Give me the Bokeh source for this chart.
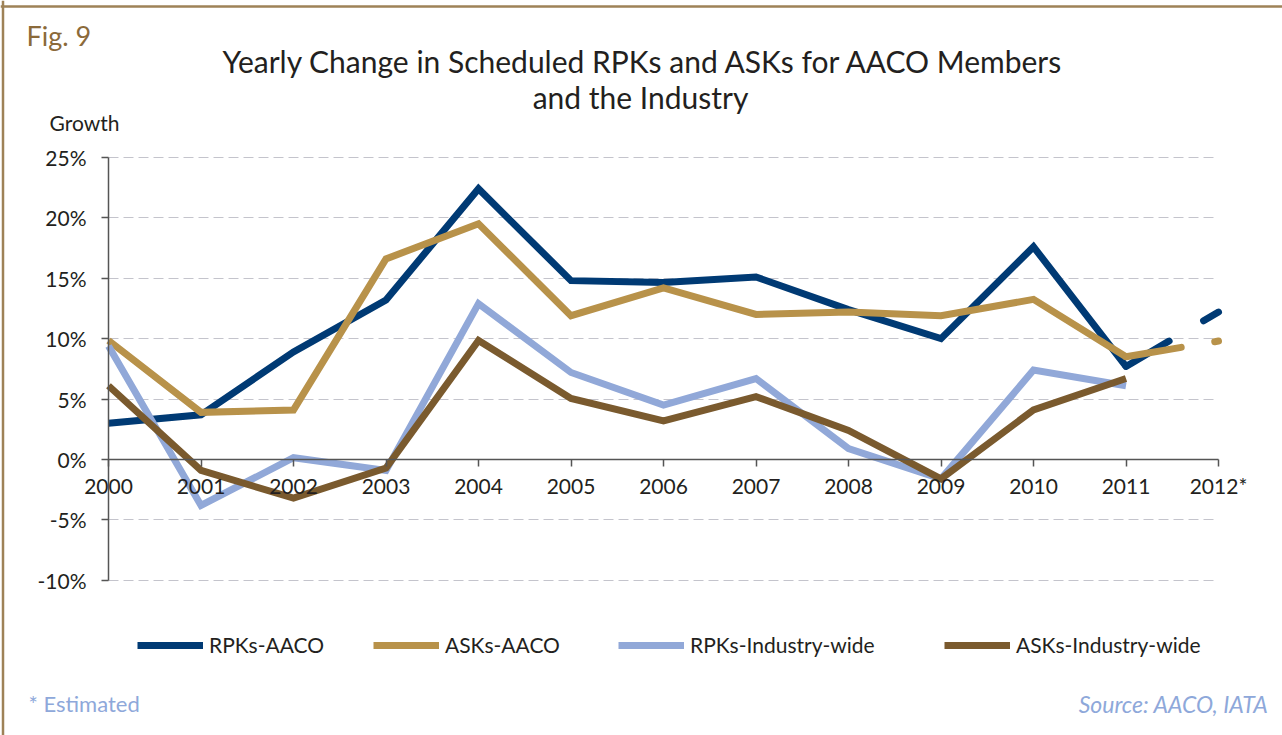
from bokeh.plotting import figure
from bokeh.models import FixedTicker, PrintfTickFormatter, Label, Legend, LegendItem, Span
from bokeh.embed import file_html
from bokeh.resources import INLINE

# ---------------- data ----------------
years = [2000, 2001, 2002, 2003, 2004, 2005, 2006, 2007, 2008, 2009, 2010, 2011, 2012]
year_labels = ["2000", "2001", "2002", "2003", "2004", "2005", "2006",
               "2007", "2008", "2009", "2010", "2011", "2012*"]
rpk_aaco = [3.0, 3.7, 8.9, 13.2, 22.4, 14.8, 14.65, 15.1, 12.4, 10.0, 17.6, 7.7, 12.2]
ask_aaco = [9.85, 3.9, 4.1, 16.6, 19.5, 11.9, 14.2, 12.0, 12.2, 11.9, 13.25, 8.5, 9.8]
rpk_ind = [9.4, -3.8, 0.15, -0.9, 12.9, 7.2, 4.5, 6.7, 0.9, -1.6, 7.4, 6.1]
ask_ind = [6.1, -0.9, -3.2, -0.7, 9.85, 5.05, 3.2, 5.2, 2.4, -1.6, 4.1, 6.7]
series_names = ["RPKs-AACO", "ASKs-AACO", "RPKs-Industry-wide", "ASKs-Industry-wide"]
y_ticks = [-10, -5, 0, 5, 10, 15, 20, 25]
grid_ticks = [-10, -5, 5, 10, 15, 20, 25]

C_NAVY = "#003a74"
C_GOLD = "#b8924a"
C_LBLUE = "#91a8d8"
C_BROWN = "#7a5a2e"
FONT = "Lato"
TXT = "#231f20"

W, H = 1282, 735

# reference pixel -> data helpers (placement only)
def X(px):
    return 2000 + (px - 108) / 92.5

def Y(py):
    return (459 - py) / 12.0857

p = figure(width=W, height=H, x_range=(X(0), X(W)), y_range=(Y(H), Y(0)),
           output_backend="svg", toolbar_location=None,
           min_border=0, min_border_left=0, min_border_right=0,
           min_border_top=0, min_border_bottom=0)
p.outline_line_color = None
p.background_fill_color = "white"
p.border_fill_color = "white"

# grid
p.xgrid.grid_line_color = None
p.ygrid.ticker = FixedTicker(ticks=grid_ticks)
p.ygrid.cross_bounds = (2000, 2012)
p.ygrid.grid_line_color = "#c4c4cc"
p.ygrid.grid_line_dash = "10 5"
p.ygrid.grid_line_width = 1

# axes
p.xaxis.ticker = FixedTicker(ticks=years)
p.xaxis.major_label_overrides = {y: l for y, l in zip(years, year_labels)}
p.xaxis.fixed_location = 0
p.xaxis.bounds = (2000, 2012)
p.yaxis.ticker = FixedTicker(ticks=y_ticks)
p.yaxis.formatter = PrintfTickFormatter(format="%d%%")
p.yaxis.fixed_location = 2000
p.yaxis.bounds = (-10, 25)
for ax in (p.xaxis, p.yaxis):
    ax.axis_line_color = "#555555"
    ax.axis_line_width = 1.5
    ax.major_tick_line_color = "#555555"
    ax.major_tick_line_width = 1.5
    ax.major_tick_in = 0
    ax.major_tick_out = 7
    ax.minor_tick_line_color = None
    ax.major_label_text_font = FONT
    ax.major_label_text_font_size = "21px"
    ax.major_label_text_color = TXT
p.xaxis.major_label_standoff = 6
p.yaxis.major_label_standoff = 15

# lines
n = len(years) - 1
r1 = p.line(years[:n], rpk_aaco[:n], line_color=C_NAVY, line_width=7, line_join="miter")
p.line(years[n - 1:], rpk_aaco[n - 1:], line_color=C_NAVY, line_width=7, line_dash="50 40", line_cap="round")
r2 = p.line(years[:n], ask_aaco[:n], line_color=C_GOLD, line_width=7, line_join="miter")
p.line(years[n - 1:], ask_aaco[n - 1:], line_color=C_GOLD, line_width=7, line_dash="56 34", line_cap="round")
r3 = p.line(years[:n], rpk_ind, line_color=C_LBLUE, line_width=7, line_join="miter")
r4 = p.line(years[:n], ask_ind, line_color=C_BROWN, line_width=7, line_join="miter")

# legend: one entry per box so each sits where the reference puts it
legend_x = [137, 373, 618, 944]
for name, r, lx in zip(series_names, [r1, r2, r3, r4], legend_x):
    lg = Legend(items=[LegendItem(label=name, renderers=[r])],
                orientation="horizontal", location=(lx, 78),
                glyph_width=66, glyph_height=20, label_standoff=6, spacing=0,
                padding=0, margin=0, border_line_color=None, background_fill_alpha=0,
                label_text_font=FONT, label_text_font_size="21px", label_text_color=TXT)
    p.add_layout(lg, "center")

# texts
p.add_layout(Label(x=X(643), y=Y(60), text="Yearly Change in Scheduled RPKs and ASKs for AACO Members",
                   text_align="center", text_baseline="middle", text_font=FONT,
                   text_font_size="30px", text_color=TXT))
p.add_layout(Label(x=X(640), y=Y(96), text="and the Industry",
                   text_align="center", text_baseline="middle", text_font=FONT,
                   text_font_size="30px", text_color=TXT))
p.add_layout(Label(x=X(26), y=Y(35), text="Fig. 9", text_align="left", text_baseline="middle",
                   text_font=FONT, text_font_size="27px", text_color="#8b6a3a"))
p.add_layout(Label(x=X(49), y=Y(122), text="Growth", text_align="left", text_baseline="middle",
                   text_font=FONT, text_font_size="21px", text_color=TXT))
p.add_layout(Label(x=X(28), y=Y(703), text="* Estimated", text_align="left", text_baseline="middle",
                   text_font=FONT, text_font_size="22px", text_color="#8ea8da"))
p.add_layout(Label(x=X(1268), y=Y(703), text="Source: AACO, IATA", text_align="right",
                   text_baseline="middle", text_font=FONT, text_font_size="23px",
                   text_font_style="italic", text_color="#8ea8da"))

# frame border (top and left)
p.add_layout(Span(location=X(2.5), dimension="height", line_color="#9e8257", line_width=2.5))
p.add_layout(Span(location=Y(6), dimension="width", line_color="#9e8257", line_width=2.5))

open("out.html", "w").write(file_html(p, INLINE))
